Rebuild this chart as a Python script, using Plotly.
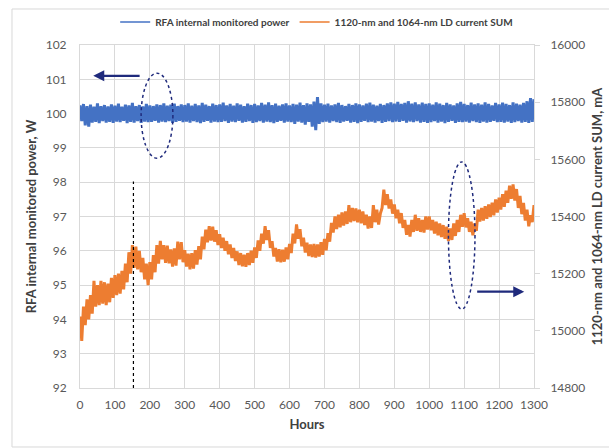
import plotly.graph_objects as go

# Sampling times (hours), one reading every 5 h
hours = list(range(0, 1301, 5))

# RFA internal monitored power, W (noisy band)
power_w = [
    100.24, 99.78, 100.28, 99.66, 100.22, 99.62, 100.26, 99.74, 100.20, 99.76, 100.30, 99.72, 100.22, 99.78, 100.25, 99.74, 100.21, 99.76, 100.27, 99.73,
    100.23, 99.77, 100.29, 99.75, 100.20, 99.79, 100.26, 99.72, 100.24, 99.76, 100.31, 99.74, 100.22, 99.78, 100.25, 99.73, 100.21, 99.77, 100.28, 99.75,
    100.24, 99.76, 100.22, 99.79, 100.27, 99.74, 100.25, 99.77, 100.30, 99.75, 100.23, 99.78, 100.26, 99.73, 100.29, 99.76, 100.22, 99.79, 100.27, 99.75,
    100.25, 99.77, 100.30, 99.74, 100.23, 99.78, 100.28, 99.75, 100.24, 99.72, 100.31, 99.76, 100.26, 99.79, 100.22, 99.74, 100.29, 99.77, 100.25, 99.75,
    100.27, 99.76, 100.32, 99.78, 100.24, 99.73, 100.28, 99.77, 100.23, 99.75, 100.30, 99.79, 100.26, 99.74, 100.22, 99.76, 100.29, 99.78, 100.25, 99.73,
    100.28, 99.75, 100.24, 99.78, 100.31, 99.74, 100.26, 99.77, 100.33, 99.75, 100.25, 99.72, 100.29, 99.76, 100.23, 99.79, 100.27, 99.74, 100.30, 99.77,
    100.24, 99.75, 100.28, 99.70, 100.26, 99.77, 100.32, 99.74, 100.25, 99.68, 100.30, 99.76, 100.27, 99.62, 100.35, 99.52, 100.48, 99.70, 100.30, 99.75,
    100.26, 99.77, 100.29, 99.74, 100.24, 99.78, 100.27, 99.75, 100.31, 99.73, 100.25, 99.77, 100.22, 99.79, 100.28, 99.74, 100.25, 99.76, 100.30, 99.72,
    100.27, 99.76, 100.24, 99.79, 100.29, 99.75, 100.32, 99.77, 100.26, 99.74, 100.23, 99.78, 100.28, 99.73, 100.25, 99.76, 100.30, 99.78, 100.33, 99.75,
    100.29, 99.77, 100.34, 99.76, 100.28, 99.79, 100.31, 99.74, 100.36, 99.77, 100.29, 99.75, 100.33, 99.78, 100.27, 99.74, 100.32, 99.76, 100.28, 99.73,
    100.30, 99.75, 100.26, 99.78, 100.33, 99.74, 100.29, 99.77, 100.25, 99.72, 100.31, 99.76, 100.27, 99.79, 100.24, 99.73, 100.30, 99.76, 100.34, 99.75,
    100.28, 99.77, 100.25, 99.74, 100.32, 99.78, 100.27, 99.75, 100.30, 99.73, 100.26, 99.77, 100.33, 99.74, 100.28, 99.76, 100.24, 99.79, 100.31, 99.75,
    100.27, 99.76, 100.32, 99.74, 100.28, 99.77, 100.25, 99.73, 100.33, 99.75, 100.29, 99.78, 100.26, 99.74, 100.31, 99.76, 100.36, 99.73, 100.45, 99.76, 100.42,
]

# 1120-nm and 1064-nm LD current SUM, mA (noisy band)
current_ma = [
    15050, 14965, 15085, 15020, 15110, 15040, 15125, 15060, 15175, 15085, 15160, 15090, 15175, 15095, 15170, 15090, 15165, 15100, 15185, 15115,
    15195, 15125, 15200, 15130, 15210, 15145, 15235, 15170, 15275, 15200, 15300, 15220, 15295, 15215, 15280, 15205, 15255, 15180, 15235, 15160,
    15240, 15180, 15265, 15205, 15300, 15235, 15315, 15250, 15300, 15238, 15298, 15236, 15285, 15225, 15288, 15228, 15312, 15250, 15310, 15240,
    15282, 15225, 15270, 15215, 15272, 15218, 15282, 15232, 15296, 15250, 15330, 15285, 15354, 15310, 15366, 15316, 15364, 15312, 15352, 15300,
    15338, 15290, 15326, 15280, 15314, 15268, 15302, 15255, 15290, 15244, 15278, 15230, 15272, 15226, 15266, 15224, 15272, 15230, 15280, 15238,
    15292, 15255, 15316, 15280, 15340, 15305, 15366, 15318, 15352, 15290, 15314, 15260, 15290, 15242, 15286, 15240, 15284, 15242, 15292, 15250,
    15304, 15272, 15340, 15306, 15372, 15322, 15356, 15296, 15326, 15274, 15308, 15262, 15302, 15258, 15304, 15256, 15302, 15260, 15310, 15266,
    15322, 15282, 15342, 15312, 15378, 15344, 15400, 15356, 15406, 15362, 15414, 15368, 15418, 15374, 15440, 15380, 15430, 15384, 15428, 15380,
    15424, 15376, 15418, 15370, 15406, 15358, 15400, 15360, 15440, 15380, 15424, 15372, 15410, 15430, 15494, 15440, 15478, 15428, 15460, 15410,
    15442, 15394, 15424, 15376, 15412, 15360, 15388, 15336, 15370, 15330, 15388, 15346, 15406, 15350, 15394, 15346, 15388, 15344, 15400, 15354,
    15400, 15352, 15388, 15340, 15382, 15334, 15376, 15328, 15370, 15322, 15364, 15314, 15358, 15318, 15376, 15332, 15388, 15346, 15406, 15364,
    15412, 15362, 15394, 15346, 15382, 15334, 15376, 15350, 15424, 15382, 15430, 15386, 15436, 15392, 15442, 15398, 15448, 15404, 15460, 15414,
    15466, 15424, 15478, 15434, 15490, 15448, 15508, 15462, 15512, 15456, 15496, 15430, 15472, 15408, 15448, 15386, 15424, 15366, 15404, 15380, 15440,
]

series_names = ["RFA internal monitored power", "1120-nm and 1064-nm LD current SUM"]
x_ticks = list(range(0, 1301, 100))
left_ticks = list(range(92, 103, 1))
right_ticks = list(range(14800, 16001, 200))

BLUE = "#4472c4"
ORANGE = "#ed7d31"
NAVY = "#1f2a7c"
GRID = "#d9d9d9"
TXT = "#595959"
FONT = "Lato"

fig = go.Figure()
fig.add_trace(go.Scatter(x=hours, y=power_w, mode="lines", name=series_names[0], showlegend=False,
                         line=dict(color=BLUE, width=3), yaxis="y"))
fig.add_trace(go.Scatter(x=hours, y=current_ma, mode="lines", name=series_names[1], showlegend=False,
                         line=dict(color=ORANGE, width=3), yaxis="y2"))
# legend entries with thin line samples (no data drawn)
fig.add_trace(go.Scatter(x=[None], y=[None], mode="lines", name=series_names[0],
                         line=dict(color=BLUE, width=1.5), yaxis="y"))
fig.add_trace(go.Scatter(x=[None], y=[None], mode="lines", name=series_names[1],
                         line=dict(color=ORANGE, width=1.5), yaxis="y2"))

fig.update_layout(
    width=609, height=448,
    margin=dict(l=80, r=75, t=45, b=60, autoexpand=False),
    paper_bgcolor="white", plot_bgcolor="white",
    font=dict(family=FONT, size=12, color=TXT),
    showlegend=True,
    legend=dict(orientation="h", x=0.52, xanchor="center", xref="container",
                y=0.951, yanchor="middle", yref="container",
                font=dict(family=FONT, size=10, color="#404040", weight="bold"),
                itemwidth=30, tracegroupgap=0, bgcolor="rgba(0,0,0,0)"),
    xaxis=dict(range=[0, 1300], tickvals=x_ticks, ticks="", showgrid=True, gridcolor=GRID, gridwidth=1,
               showline=True, linecolor=GRID, mirror=True, zeroline=False,
               tickfont=dict(family=FONT, size=12, color=TXT), ticklabelstandoff=6,
               title=dict(text="Hours", font=dict(family=FONT, size=13, color="#404040", weight="bold"), standoff=8)),
    yaxis=dict(range=[92, 102], tickvals=left_ticks, ticks="", showgrid=True, gridcolor=GRID, gridwidth=1,
               showline=True, linecolor=GRID, mirror=True, zeroline=False,
               tickfont=dict(family=FONT, size=12, color=TXT), ticklabelstandoff=10,
               title=dict(text="RFA internal monitored power, W",
                          font=dict(family=FONT, size=13, color="#404040", weight="bold"), standoff=6)),
    yaxis2=dict(range=[14800, 16000], tickvals=right_ticks, tickformat="d", overlaying="y", side="right",
                showgrid=False, ticks="outside", ticklen=5, tickcolor=GRID, zeroline=False,
                tickfont=dict(family=FONT, size=12, color=TXT), ticklabelstandoff=8,
                title=dict(text="1120-nm and 1064-nm LD current SUM, mA",
                           font=dict(family=FONT, size=13, color="#404040", weight="bold"), standoff=8)),
)

shapes = [
    # chart-area border
    dict(type="rect", xref="paper", yref="paper", x0=-0.1498, x1=1.17, y0=-0.172, y1=1.105,
         line=dict(color=GRID, width=1), fillcolor="rgba(0,0,0,0)", layer="below"),
    # dashed ellipse around the power trace
    dict(type="circle", xref="x", yref="y", x0=175, x1=266, y0=98.7, y1=101.18,
         line=dict(color=NAVY, width=1.5, dash="dot")),
    # dashed ellipse around the current trace
    dict(type="circle", xref="x", yref="y2", x0=1055, x1=1131, y0=15076, y1=15591,
         line=dict(color=NAVY, width=1.5, dash="dot")),
    # vertical black dashed line
    dict(type="line", xref="x", yref="y", x0=153, x1=153, y0=92, y1=98.02,
         line=dict(color="black", width=1.2, dash="dot")),
]
fig.update_layout(shapes=shapes)

fig.add_annotation(x=38, y=101.1, ax=175, ay=101.1, xref="x", yref="y", axref="x", ayref="y",
                   text="", showarrow=True, arrowhead=2, arrowsize=1, arrowwidth=2.2, arrowcolor=NAVY)
fig.add_annotation(x=1272, y=15137, ax=1133, ay=15137, xref="x", yref="y2", axref="x", ayref="y2",
                   text="", showarrow=True, arrowhead=2, arrowsize=1, arrowwidth=2.2, arrowcolor=NAVY)

fig.write_html("out.html")
